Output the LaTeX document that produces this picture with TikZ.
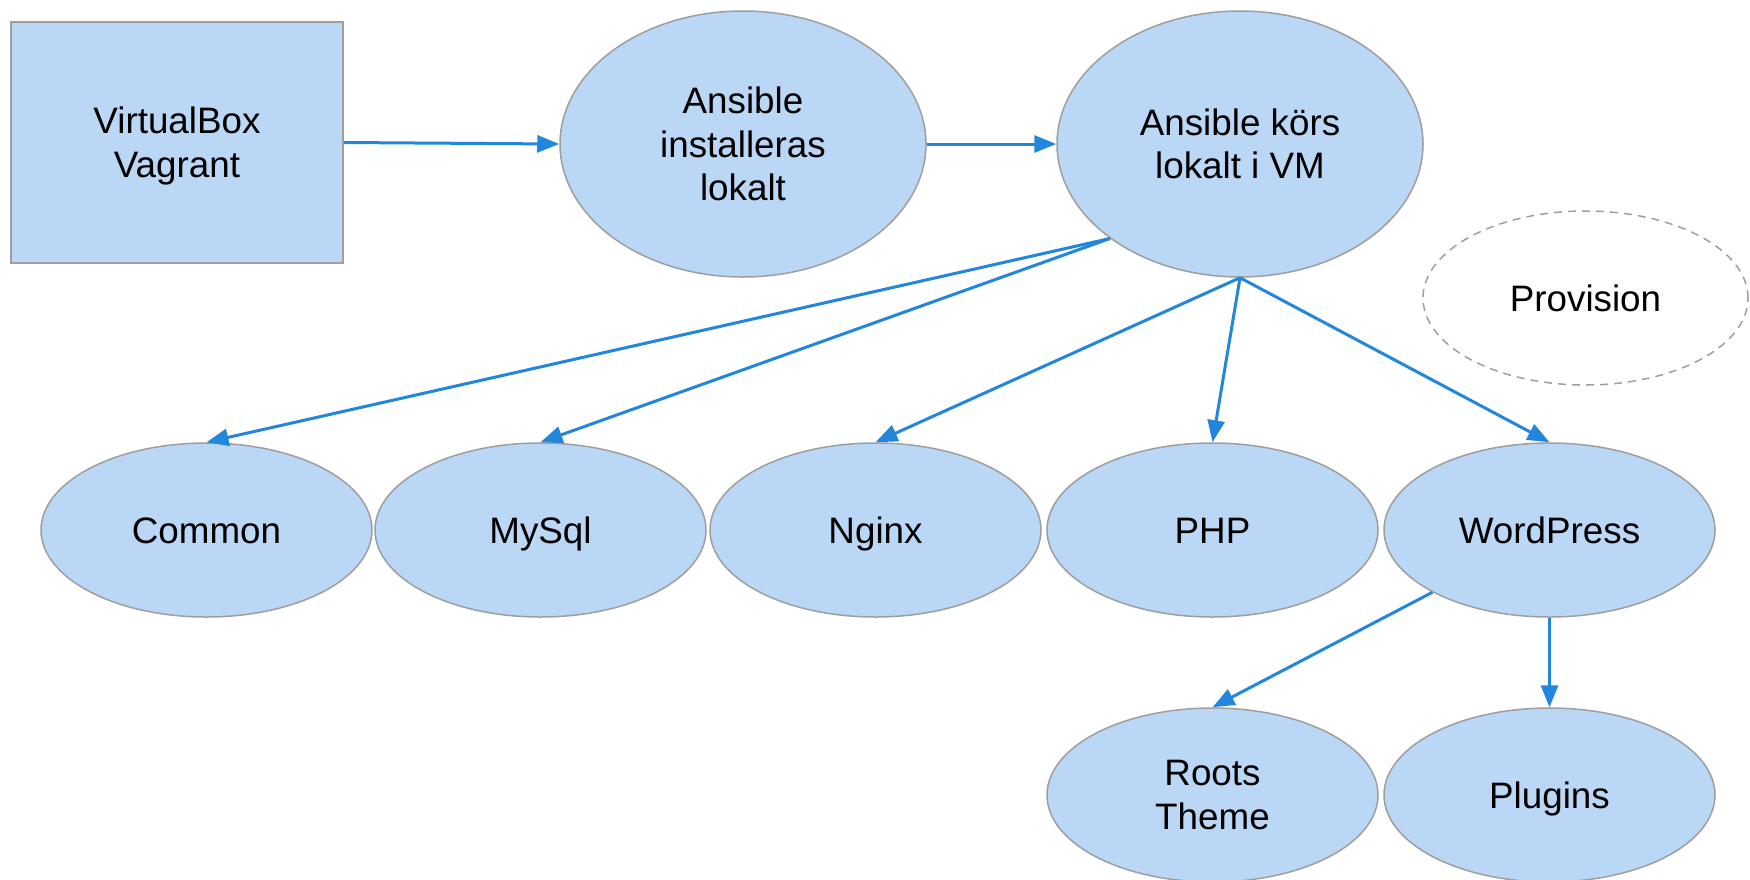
\documentclass[tikz,border=0pt]{standalone}
\usepackage{fontspec}
\setmainfont{Liberation Sans}
\usetikzlibrary{shapes.geometric,arrows.meta}
\definecolor{nodefill}{HTML}{BAD7F5}
\definecolor{nodeborder}{HTML}{9E9E9E}
\definecolor{arrowblue}{HTML}{2386DD}
\begin{document}
\begin{tikzpicture}[x=0.5pt,y=-0.5pt,
  base/.style={fill=nodefill,draw=nodeborder,line width=0.75pt,
    font=\fontsize{18.4}{21.8}\selectfont,align=center,inner sep=0pt},
  oneline/.style={text height=13.2pt,text depth=0pt},
  bigoval/.style={base,ellipse,minimum width=183pt,minimum height=133pt},
  oval/.style={base,ellipse,minimum width=165.5pt,minimum height=87pt},
  boxnode/.style={base,rectangle,minimum width=166pt,minimum height=120.5pt},
  legendoval/.style={ellipse,draw=nodeborder,dashed,line width=0.75pt,
    dash pattern=on 4pt off 3pt,minimum width=162.5pt,minimum height=87pt,
    font=\fontsize{18.4}{21.8}\selectfont,inner sep=0pt},
  conn/.style={draw=arrowblue,line width=1.5pt,-{Triangle[length=11pt,width=8.5pt]}}]
\useasboundingbox (0,0) rectangle (1750,879);
\node[boxnode] (vb) at (177,142.5) {VirtualBox\\Va\smash{g}rant};
\node[bigoval] (ai) at (743,144) {Ansible\\installeras\\lokalt};
\node[bigoval] (ak) at (1240,144) {Ansible körs\\lokalt i VM};
\node[legendoval,oneline] (prov) at (1585.5,298) {Provision};
\node[oval,oneline] (common) at (206.5,530) {Common};
\node[oval,oneline] (mysql) at (540.5,530) {MySql};
\node[oval,oneline] (nginx) at (875.5,530) {Nginx};
\node[oval,oneline] (php) at (1212.5,530) {PHP};
\node[oval,oneline] (wp) at (1549.5,530) {WordPress};
\node[oval] (roots) at (1212.5,795) {Roots\\Theme};
\node[oval,oneline] (plugins) at (1549.5,795) {Plugins};
\draw[conn] (vb.east) -- (ai.west);
\draw[conn] (ai.east) -- (ak.west);
\draw[conn] (ak.216) -- (common.north);
\draw[conn] (ak.216) -- (mysql.north);
\draw[conn] (ak.south) -- (nginx.north);
\draw[conn] (ak.south) -- (php.north);
\draw[conn] (ak.south) -- (wp.north);
\draw[conn] (wp.208) -- (roots.north);
\draw[conn] (wp.south) -- (plugins.north);
\end{tikzpicture}
\end{document}
